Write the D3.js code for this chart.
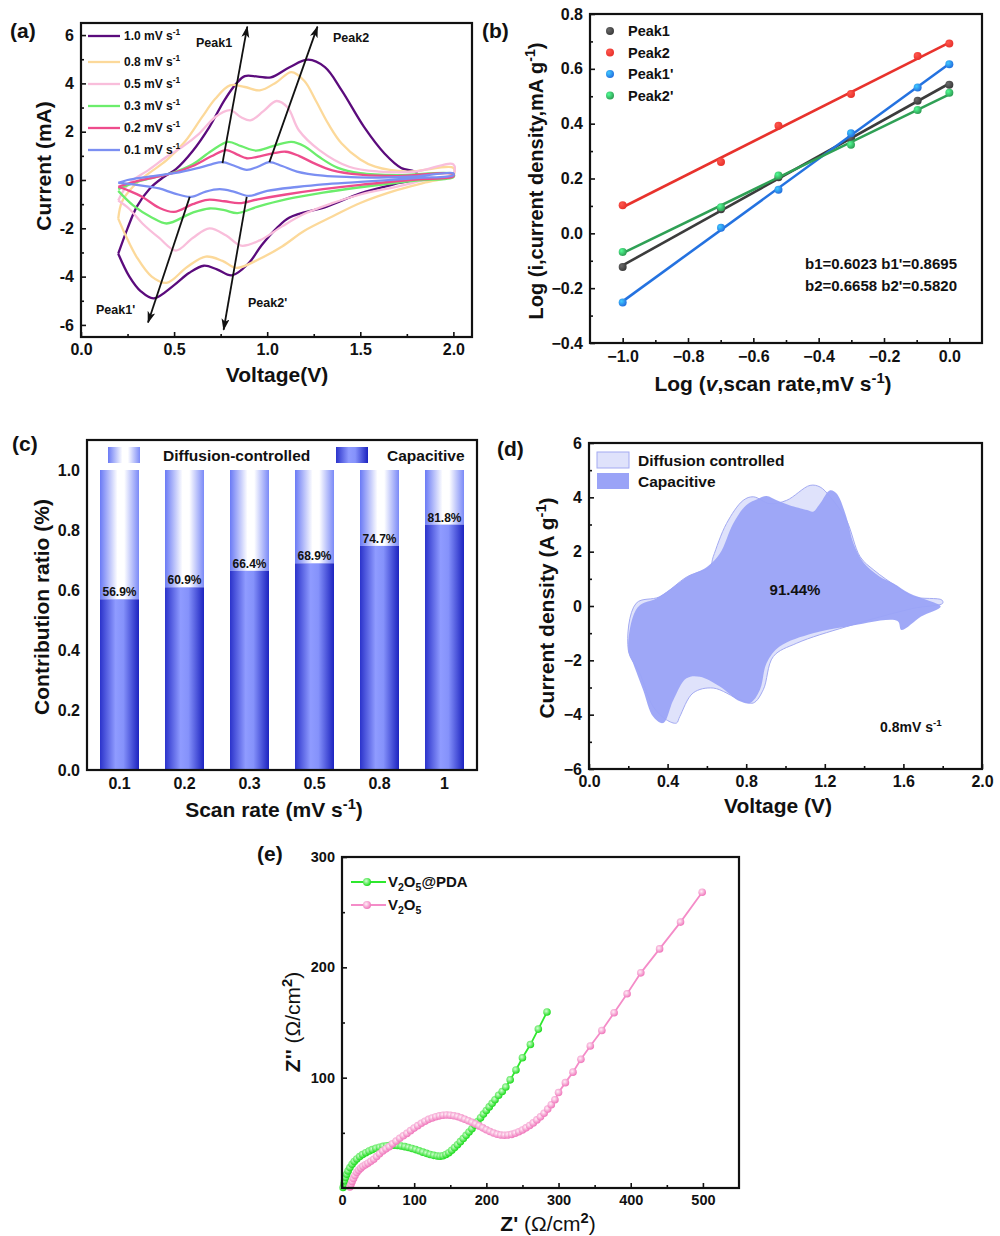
<!DOCTYPE html>
<html><head><meta charset="utf-8">
<script src="https://cdn.jsdelivr.net/npm/d3@7"></script>
<style>
body{margin:0;background:#fff;}
text{font-family:"Liberation Sans",Arial,sans-serif;font-weight:bold;fill:#111;}
</style></head><body>
<svg id="fig" width="1000" height="1236"></svg>
<script>
// ---- (a) CV curves, [V, mA]
var cvRates = ['1.0', '0.8', '0.5', '0.3', '0.2', '0.1'];
var cvColors = ['#5b0b7c', '#fcd99a', '#f9bedb', '#6ced6c', '#ee4c8c', '#7b8ff2'];
var cvUp = [
  [[0.2,-3.05],[0.25,-2.0],[0.3,-1.1],[0.37,-0.35],[0.44,0.1],[0.51,0.45],[0.6,1.2],[0.69,2.2],[0.77,3.3],[0.835,4.0],[0.88,4.3],[0.95,4.28],[1.02,4.25],[1.12,4.67],[1.22,4.98],[1.31,4.67],[1.4,3.71],[1.52,2.2],[1.63,1.1],[1.72,0.5],[1.8,0.32]],
  [[0.2,-1.6],[0.22,-0.9],[0.28,-0.27],[0.36,0.25],[0.46,0.82],[0.56,1.6],[0.65,2.6],[0.72,3.35],[0.8,3.92],[0.88,3.85],[0.96,3.71],[1.05,4.05],[1.13,4.47],[1.2,4.1],[1.26,3.3],[1.33,2.3],[1.4,1.51],[1.5,0.85],[1.58,0.55],[1.75,0.35],[2.0,0.5]],
  [[0.2,-0.85],[0.24,-0.3],[0.28,0.0],[0.36,0.4],[0.46,0.96],[0.55,1.4],[0.635,1.92],[0.72,2.6],[0.8,2.89],[0.86,2.6],[0.91,2.47],[0.98,2.85],[1.05,3.27],[1.11,3.0],[1.17,2.06],[1.28,1.24],[1.44,0.55],[1.6,0.35],[1.8,0.35],[2.0,0.65]],
  [[0.2,-0.38],[0.3,-0.08],[0.4,0.12],[0.5,0.32],[0.6,0.65],[0.7,1.2],[0.79,1.58],[0.86,1.4],[0.94,1.22],[1.03,1.4],[1.13,1.58],[1.2,1.4],[1.28,0.95],[1.38,0.5],[1.5,0.28],[1.7,0.2],[2.0,0.25]],
  [[0.2,-0.28],[0.3,-0.05],[0.4,0.12],[0.5,0.3],[0.6,0.58],[0.7,0.98],[0.78,1.24],[0.84,1.05],[0.89,0.9],[0.96,0.98],[1.04,1.12],[1.1,1.17],[1.17,1.0],[1.25,0.7],[1.35,0.4],[1.5,0.22],[1.7,0.16],[2.0,0.25]],
  [[0.2,-0.12],[0.25,0.0],[0.35,0.12],[0.5,0.28],[0.62,0.48],[0.7,0.65],[0.76,0.74],[0.82,0.6],[0.89,0.42],[0.95,0.55],[1.01,0.74],[1.08,0.58],[1.16,0.35],[1.3,0.18],[1.45,0.12],[1.6,0.1],[1.8,0.15],[2.0,0.28]]
];
var cvDown = [
  [[1.8,0.05],[1.71,-0.12],[1.5,-0.55],[1.32,-1.1],[1.12,-1.55],[1.05,-2.0],[0.97,-2.7],[0.9,-3.45],[0.81,-3.95],[0.73,-3.7],[0.66,-3.55],[0.58,-3.85],[0.5,-4.35],[0.39,-4.9],[0.32,-4.6],[0.26,-4.0],[0.2,-3.05]],
  [[2.0,0.2],[1.85,-0.1],[1.7,-0.41],[1.5,-0.95],[1.35,-1.51],[1.2,-2.1],[1.08,-2.75],[0.95,-3.3],[0.835,-3.64],[0.76,-3.35],[0.67,-3.17],[0.57,-3.6],[0.46,-4.26],[0.38,-4.0],[0.3,-3.2],[0.24,-2.3],[0.2,-1.6]],
  [[2.0,0.25],[1.85,0.0],[1.7,-0.27],[1.5,-0.6],[1.35,-0.96],[1.2,-1.4],[1.08,-1.92],[0.96,-2.5],[0.86,-2.72],[0.78,-2.3],[0.69,-2.0],[0.6,-2.4],[0.51,-2.92],[0.42,-2.4],[0.33,-1.8],[0.26,-1.2],[0.2,-0.85]],
  [[2.0,0.12],[1.8,-0.02],[1.5,-0.3],[1.3,-0.52],[1.1,-0.8],[0.95,-1.1],[0.84,-1.37],[0.77,-1.25],[0.69,-1.18],[0.6,-1.35],[0.46,-1.8],[0.38,-1.55],[0.28,-1.05],[0.2,-0.45]],
  [[2.0,0.15],[1.8,0.02],[1.5,-0.2],[1.3,-0.38],[1.1,-0.6],[0.95,-0.8],[0.85,-0.96],[0.77,-0.88],[0.68,-0.82],[0.6,-1.0],[0.5,-1.32],[0.42,-1.15],[0.33,-0.7],[0.26,-0.45],[0.2,-0.28]],
  [[2.0,0.2],[1.8,0.08],[1.5,-0.08],[1.3,-0.18],[1.16,-0.29],[1.0,-0.45],[0.9,-0.66],[0.82,-0.48],[0.745,-0.38],[0.67,-0.48],[0.59,-0.7],[0.5,-0.55],[0.42,-0.35],[0.3,-0.2],[0.2,-0.12]]
];
var peakArrows = [
  {name: 'Peak1', from: [0.76, 0.70], to: [0.893, 6.35]},
  {name: 'Peak2', from: [1.012, 0.74], to: [1.27, 6.35]},
  {name: "Peak1'", from: [0.584, -0.70], to: [0.36, -5.9]},
  {name: "Peak2'", from: [0.89, -0.70], to: [0.766, -6.2]}
];

// ---- (b) log i vs log v
var logV = [-1.0, -0.699, -0.523, -0.301, -0.097, 0];
var bSeries = ['Peak1', 'Peak2', "Peak1'", "Peak2'"];
var bColors = ['#3c3c3c', '#e8322c', '#2472e0', '#2fa055'];
var peak1 = [-0.123, 0.088, 0.205, 0.345, 0.484, 0.542];
var peak2 = [0.102, 0.26, 0.392, 0.508, 0.647, 0.692];
var peak1p = [-0.252, 0.020, 0.159, 0.365, 0.532, 0.617];
var peak2p = [-0.068, 0.095, 0.211, 0.323, 0.450, 0.513];

// ---- (c) contribution ratio
var scanRates = ['0.1', '0.2', '0.3', '0.5', '0.8', '1'];
var capRatio = [0.569, 0.609, 0.664, 0.689, 0.747, 0.818];

// ---- (d) separated CV at 0.8 mV/s, [V, A/g]
var totalCV = [[0.2,-1.62],[0.24,0.1],[0.36,0.34],[0.5,1.08],[0.615,1.44],[0.632,1.81],[0.7,3.04],[0.785,3.89],[0.836,4.02],[0.92,3.77],[1.006,3.89],[1.125,4.44],[1.176,4.38],[1.227,4.02],[1.31,3.16],[1.38,1.81],[1.45,1.32],[1.567,0.71],[1.65,0.34],[1.796,0.22],[1.8,0.1],[1.65,-0.09],[1.31,-0.76],[1.057,-1.37],[0.938,-1.86],[0.887,-3.08],[0.836,-3.57],[0.768,-3.45],[0.632,-3.02],[0.53,-3.2],[0.462,-4.07],[0.445,-4.31],[0.394,-4.19],[0.326,-3.7],[0.258,-2.47]];
var capCV = [[0.2,-1.62],[0.224,-0.39],[0.26,0.04],[0.343,0.28],[0.43,0.71],[0.5,1.08],[0.6,1.44],[0.666,1.93],[0.734,3.04],[0.8,3.71],[0.862,3.95],[0.904,4.05],[0.955,3.89],[1.02,3.71],[1.11,3.53],[1.14,3.47],[1.176,3.77],[1.227,4.26],[1.26,4.14],[1.31,3.28],[1.346,2.3],[1.4,1.57],[1.48,1.08],[1.55,0.83],[1.63,0.47],[1.72,0.22],[1.79,-0.02],[1.69,-0.39],[1.59,-0.88],[1.57,-0.55],[1.31,-0.76],[1.14,-1.0],[0.97,-1.49],[0.904,-2.1],[0.87,-3.08],[0.82,-3.57],[0.768,-3.51],[0.666,-2.96],[0.564,-2.6],[0.496,-2.66],[0.43,-3.45],[0.377,-4.31],[0.326,-4.07],[0.275,-3.08],[0.224,-2.1]];

// ---- (e) Nyquist, [Z', Z'']
var pdaZ = [[1.5,0.5],[2.5,3.5],[3.5,6.5],[5,9.5],[6.5,12.5],[8.5,15.5],[11,18.5],[14,21.5],[17,24],[20.5,26.3],[24.5,28.5],[28.5,30.3],[33,32],[37.5,33.5],[42,34.8],[47,36],[52,37],[57,37.8],[62,38.3],[67,38.6],[72,38.7],[77,38.5],[82,38.1],[87,37.5],[92,36.7],[97,35.8],[102,34.8],[107,33.7],[112,32.5],[117,31.4],[122,30.4],[127,29.6],[132,29],[136,28.8],[140,29.2],[144,30.4],[148,32],[152,34.2],[156,36.6],[160,39.2],[164,42],[168,44.8],[172,47.7],[176,50.7],[180,53.7],[184,57],[188,60.3],[192,63.7],[196,67],[200,70.3],[204,73.5],[208,76.7],[212,80],[217,84],[222,87.5],[227,91.5],[233,98],[241,107],[250,118],[261,130],[272,144],[284,159.5]];
var v2o5Z = [[11,1],[12.5,3.5],[14,6],[16,8.7],[18,11.3],[20.5,14],[23,16],[26,18],[29,19.6],[32.5,21],[36,22.5],[40,24.2],[44,26],[48,28.5],[52,31],[56.5,33.5],[61,35.5],[65.5,37.5],[70,40],[75,42.5],[80,45],[85,47.3],[90,49.5],[95,52],[100,54.3],[105,56.5],[110,58.7],[115,60.5],[120,62.2],[125,63.5],[130,64.6],[135,65.4],[140,66],[145,66.2],[150,66],[155,65.5],[160,64.7],[165,63.6],[170,62.3],[175,61],[180,59.5],[185,58],[190,56.3],[195,54.5],[200,52.8],[205,51.2],[210,49.8],[215,48.7],[220,48],[225,47.8],[230,48],[235,48.6],[240,49.6],[245,51],[250,52.6],[255,54.5],[260,56.6],[265,59],[270,61.7],[275,64.5],[280,67.8],[285,71.5],[290,75.5],[295,80],[300,86.5],[309.5,95.5],[320,105],[331,116.6],[344,128.7],[360,142.8],[377,158.8],[395,176],[414,195],[440,216.7],[469,241],[499,268]];

var svg = d3.select('#fig');
var defs = svg.append('defs');

// text with superscripts / subscripts / italics
function rich(t, parts, fs) {
  var shift = 0;
  parts.forEach(function (p) {
    var s = t.append('tspan').text(p[0]);
    var want = p[1] === 'sup' ? -0.4 * fs : (p[1] === 'sub' ? 0.28 * fs : 0);
    s.attr('dy', want - shift);
    shift = want;
    if (p[1] === 'sup' || p[1] === 'sub') s.attr('font-size', fs * 0.7);
    if (p[1] === 'i') s.attr('font-style', 'italic');
    if (p[1] === 'light') s.attr('font-weight', 'normal');
  });
  return t;
}

function label(x, y, parts, fs, opts) {
  opts = opts || {};
  var t = svg.append('text').attr('font-size', fs)
    .attr('text-anchor', opts.anchor || 'start');
  if (opts.rotate) t.attr('transform', 'translate(' + x + ',' + y + ') rotate(-90)');
  else t.attr('x', x).attr('y', y);
  return rich(t, typeof parts === 'string' ? [[parts, 'n']] : parts, fs);
}

// axes drawn inward, plus a closed frame
function axes(o) {
  var g = svg.append('g');
  var x = o.x, y = o.y, yb = y.range()[0], yt = y.range()[1], xl = x.range()[0], xr = x.range()[1];
  var fs = o.fs || 16;
  var ax = d3.axisBottom(x).tickSize(o.tick === undefined ? -5 : o.tick).tickPadding(o.xpad || 6);
  if (o.xt) ax.tickValues(o.xt);
  if (o.xf) ax.tickFormat(o.xf);
  g.append('g').attr('transform', 'translate(0,' + yb + ')').call(ax);
  if (o.xm) g.append('g').attr('transform', 'translate(0,' + yb + ')')
    .call(d3.axisBottom(x).tickValues(o.xm).tickFormat('').tickSize(-3));
  if (o.yt) {
    g.append('g').attr('transform', 'translate(' + xl + ',0)')
      .call(d3.axisLeft(y).tickValues(o.yt).tickFormat(o.yf).tickSize(o.tick === undefined ? -5 : o.tick).tickPadding(o.ypad || 7));
    if (o.ym) g.append('g').attr('transform', 'translate(' + xl + ',0)')
      .call(d3.axisLeft(y).tickValues(o.ym).tickFormat('').tickSize(-3));
  }
  g.selectAll('.domain').remove();
  g.selectAll('.tick line').attr('stroke', '#111').attr('stroke-width', 1.6);
  g.selectAll('g').attr('font-size', fs).attr('font-family', null);
  g.selectAll('.tick text').attr('fill', '#111');
  g.append('rect').attr('x', xl).attr('y', yt).attr('width', xr - xl).attr('height', yb - yt)
    .attr('fill', 'none').attr('stroke', '#111').attr('stroke-width', 2.2);
}

var hyphen = function (d) { return String(d).replace('−', '-'); };

// ================= (a) =================
var xa = d3.scaleLinear().domain([0, 2.1]).range([81, 472]);
var ya = d3.scaleLinear().domain([-6.5, 6.5]).range([337, 23]);
var cvLine = d3.line().x(function (d) { return xa(d[0]); }).y(function (d) { return ya(d[1]); })
  .curve(d3.curveCatmullRom.alpha(0.5));
cvRates.forEach(function (r, i) {
  svg.append('path').attr('d', cvLine(cvUp[i].concat(cvDown[i])))
    .attr('fill', 'none').attr('stroke', cvColors[i]).attr('stroke-width', 2.3);
});
defs.append('marker').attr('id', 'arr').attr('markerUnits', 'userSpaceOnUse')
  .attr('markerWidth', 12).attr('markerHeight', 10).attr('refX', 11).attr('refY', 4)
  .attr('orient', 'auto').append('path').attr('d', 'M0,0 L12,4 L0,8 L3,4 z').attr('fill', '#111');
peakArrows.forEach(function (a) {
  svg.append('line').attr('x1', xa(a.from[0])).attr('y1', ya(a.from[1]))
    .attr('x2', xa(a.to[0])).attr('y2', ya(a.to[1]))
    .attr('stroke', '#111').attr('stroke-width', 1.8).attr('marker-end', 'url(#arr)');
});
label(196, 47, 'Peak1', 12.5);
label(333, 42, 'Peak2', 12.5);
label(96, 314, "Peak1'", 12.5);
label(248, 307, "Peak2'", 12.5);
var aLegY = [36, 62, 84, 106, 128, 150];
cvRates.forEach(function (r, i) {
  svg.append('line').attr('x1', 88).attr('x2', 120).attr('y1', aLegY[i]).attr('y2', aLegY[i])
    .attr('stroke', cvColors[i]).attr('stroke-width', 2.3);
  label(124, aLegY[i] + 4, [[r + ' mV s', 'n'], ['-1', 'sup']], 12);
});
axes({x: xa, y: ya, xt: [0, 0.5, 1, 1.5, 2], xm: [0.25, 0.75, 1.25, 1.75],
  xf: d3.format('.1f'), yt: [-6, -4, -2, 0, 2, 4, 6], ym: [-5, -3, -1, 1, 3, 5], yf: hyphen, xpad: 7});
label(277, 382, 'Voltage(V)', 21, {anchor: 'middle'});
label(51, 166, 'Current (mA)', 21, {anchor: 'middle', rotate: true});
label(10, 38, '(a)', 21);

// ================= (b) =================
var xb = d3.scaleLinear().domain([-1.1, 0.1]).range([590, 982]);
var yb = d3.scaleLinear().domain([-0.4, 0.8]).range([343, 14]);
var bData = [peak1, peak2, peak1p, peak2p];
bSeries.forEach(function (s, i) {
  var grad = defs.append('radialGradient').attr('id', 'sph' + i).attr('cx', '35%').attr('cy', '35%').attr('r', '65%');
  grad.append('stop').attr('offset', '0%').attr('stop-color', d3.color(bColors[i]).brighter(1.6));
  grad.append('stop').attr('offset', '100%').attr('stop-color', bColors[i]);
  var ys = bData[i];
  var mx = d3.mean(logV), my = d3.mean(ys);
  var slope = d3.sum(logV, function (v, k) { return (v - mx) * (ys[k] - my); }) /
    d3.sum(logV, function (v) { return (v - mx) * (v - mx); });
  var icpt = my - slope * mx;
  svg.append('line').attr('x1', xb(-1)).attr('y1', yb(icpt - slope)).attr('x2', xb(0)).attr('y2', yb(icpt))
    .attr('stroke', bColors[i]).attr('stroke-width', 2.6);
  svg.append('g').selectAll('circle').data(logV).enter().append('circle')
    .attr('cx', function (v) { return xb(v); }).attr('cy', function (v, k) { return yb(ys[k]); })
    .attr('r', 4).attr('fill', 'url(#sph' + i + ')');
  var ly = 31 + i * 21.5;
  svg.append('circle').attr('cx', 610).attr('cy', ly).attr('r', 4).attr('fill', 'url(#sph' + i + ')');
  label(628, ly + 5, s, 14.5);
});
axes({x: xb, y: yb, xt: [-1, -0.8, -0.6, -0.4, -0.2, 0], xm: [-0.9, -0.7, -0.5, -0.3, -0.1],
  xf: d3.format('.1f'), yt: [-0.4, -0.2, 0, 0.2, 0.4, 0.6, 0.8], ym: [-0.3, -0.1, 0.1, 0.3, 0.5, 0.7],
  yf: d3.format('.1f'), xpad: 8});
label(957, 269, "b1=0.6023 b1'=0.8695", 15, {anchor: 'end'});
label(957, 291, "b2=0.6658 b2'=0.5820", 15, {anchor: 'end'});
label(773, 391, [['Log (', 'n'], ['v', 'i'], [',scan rate,mV s', 'n'], ['-1', 'sup'], [')', 'n']], 21, {anchor: 'middle'});
label(543, 181, [['Log (i,current density,mA g', 'n'], ['-1', 'sup'], [')', 'n']], 20, {anchor: 'middle', rotate: true});
label(482, 38, '(b)', 21);

// ================= (c) =================
var xc = d3.scaleBand().domain(scanRates).range([87, 477]).paddingInner(0.4).paddingOuter(0.2);
var yc = d3.scaleLinear().domain([0, 1.1]).range([770, 440]);
var gCap = defs.append('linearGradient').attr('id', 'gCap');
[['0%', '#2b33cb'], ['40%', '#8f9bff'], ['60%', '#8592fb'], ['100%', '#1c23c0']].forEach(function (s) {
  gCap.append('stop').attr('offset', s[0]).attr('stop-color', s[1]);
});
var gDif = defs.append('linearGradient').attr('id', 'gDif');
[['0%', '#6a7af5'], ['45%', '#ffffff'], ['62%', '#ffffff'], ['100%', '#7b8af7']].forEach(function (s) {
  gDif.append('stop').attr('offset', s[0]).attr('stop-color', s[1]);
});
var bars = svg.append('g');
bars.selectAll('.dif').data(scanRates).enter().append('rect')
  .attr('x', function (d) { return xc(d); }).attr('width', xc.bandwidth())
  .attr('y', yc(1)).attr('height', function (d, i) { return yc(capRatio[i]) - yc(1); })
  .attr('fill', 'url(#gDif)');
bars.selectAll('.cap').data(scanRates).enter().append('rect')
  .attr('x', function (d) { return xc(d); }).attr('width', xc.bandwidth())
  .attr('y', function (d, i) { return yc(capRatio[i]); })
  .attr('height', function (d, i) { return yc(0) - yc(capRatio[i]); })
  .attr('fill', 'url(#gCap)');
bars.selectAll('text').data(scanRates).enter().append('text')
  .attr('x', function (d) { return xc(d) + xc.bandwidth() / 2; })
  .attr('y', function (d, i) { return yc(capRatio[i]) - 3; })
  .attr('text-anchor', 'middle').attr('font-size', 12)
  .text(function (d, i) { return (capRatio[i] * 100).toFixed(1) + '%'; });
axes({x: xc, y: yc, tick: 0, yt: [0, 0.2, 0.4, 0.6, 0.8, 1.0], yf: d3.format('.1f'), xpad: 8, ypad: 7});
svg.append('rect').attr('x', 108).attr('y', 447).attr('width', 32).attr('height', 16).attr('fill', 'url(#gDif)');
label(163, 461, 'Diffusion-controlled', 15.5);
svg.append('rect').attr('x', 336).attr('y', 447).attr('width', 32).attr('height', 16).attr('fill', 'url(#gCap)');
label(387, 461, 'Capacitive', 15.5);
label(274, 817, [['Scan rate (mV s', 'n'], ['-1', 'sup'], [')', 'n']], 21, {anchor: 'middle'});
label(49, 607, 'Contribution ratio (%)', 21, {anchor: 'middle', rotate: true});
label(12, 451, '(c)', 21);

// ================= (d) =================
var xd = d3.scaleLinear().domain([0, 2]).range([589, 982]);
var yd = d3.scaleLinear().domain([-6, 6]).range([769, 443]);
var loop = d3.line().x(function (d) { return xd(d[0]); }).y(function (d) { return yd(d[1]); })
  .curve(d3.curveCatmullRomClosed.alpha(0.5));
svg.append('path').attr('d', loop(totalCV)).attr('fill', '#dfe2fb').attr('stroke', '#a3aaf2').attr('stroke-width', 1);
svg.append('path').attr('d', loop(capCV)).attr('fill', '#9aa3f7').attr('fill-opacity', 0.95);
label(795, 595, '91.44%', 15, {anchor: 'middle'});
label(880, 732, [['0.8mV s', 'n'], ['-1', 'sup']], 14);
svg.append('rect').attr('x', 597).attr('y', 452).attr('width', 32).attr('height', 16)
  .attr('fill', '#dfe2fb').attr('stroke', '#a3aaf2').attr('stroke-width', 1);
label(638, 466, 'Diffusion controlled', 15.5);
svg.append('rect').attr('x', 597).attr('y', 473).attr('width', 32).attr('height', 16).attr('fill', '#9aa3f7');
label(638, 487, 'Capacitive', 15.5);
axes({x: xd, y: yd, xt: [0, 0.4, 0.8, 1.2, 1.6, 2.0], xm: [0.2, 0.6, 1.0, 1.4, 1.8], xf: d3.format('.1f'),
  yt: [-6, -4, -2, 0, 2, 4, 6], ym: [-5, -3, -1, 1, 3, 5], yf: d3.format('d'), xpad: 7});
label(778, 813, 'Voltage (V)', 21, {anchor: 'middle'});
label(554, 608, [['Current density (A g', 'n'], ['-1', 'sup'], [')', 'n']], 21, {anchor: 'middle', rotate: true});
label(497, 456, '(d)', 21);

// ================= (e) =================
var xe = d3.scaleLinear().domain([0, 550]).range([342, 739]);
var ye = d3.scaleLinear().domain([0, 300]).range([1188, 857]);
var eSeries = [
  {data: pdaZ, line: '#2ee82e', c0: '#d4ffd4', c1: '#1fdc1f'},
  {data: v2o5Z, line: '#f48cc8', c0: '#fff0f8', c1: '#f07abd'}
];
var zLine = d3.line().x(function (d) { return xe(d[0]); }).y(function (d) { return ye(d[1]); });
eSeries.forEach(function (s, i) {
  var grad = defs.append('radialGradient').attr('id', 'eb' + i).attr('cx', '40%').attr('cy', '38%').attr('r', '60%');
  grad.append('stop').attr('offset', '0%').attr('stop-color', s.c0);
  grad.append('stop').attr('offset', '100%').attr('stop-color', s.c1);
  svg.append('path').attr('d', zLine(s.data)).attr('fill', 'none').attr('stroke', s.line).attr('stroke-width', 1.8);
});
eSeries.forEach(function (s, i) {
  svg.append('g').selectAll('circle').data(s.data).enter().append('circle')
    .attr('cx', function (d) { return xe(d[0]); }).attr('cy', function (d) { return ye(d[1]); })
    .attr('r', 3.8).attr('fill', 'url(#eb' + i + ')');
});
var eLeg = [[['V', 'n'], ['2', 'sub'], ['O', 'n'], ['5', 'sub'], ['@PDA', 'n']], [['V', 'n'], ['2', 'sub'], ['O', 'n'], ['5', 'sub']]];
eLeg.forEach(function (parts, i) {
  var ly = 882 + i * 23;
  svg.append('line').attr('x1', 351).attr('x2', 386).attr('y1', ly).attr('y2', ly)
    .attr('stroke', eSeries[i].line).attr('stroke-width', 1.8);
  svg.append('circle').attr('cx', 367).attr('cy', ly).attr('r', 4).attr('fill', 'url(#eb' + i + ')');
  label(388, ly + 5, parts, 15);
});
axes({x: xe, y: ye, xt: [0, 100, 200, 300, 400, 500], xm: [50, 150, 250, 350, 450],
  xf: d3.format('d'), yt: [100, 200, 300], ym: [50, 150, 250], yf: d3.format('d'), fs: 14.5, xpad: 7});
label(548, 1231, [["Z' ", 'n'], ['(Ω/cm', 'light'], ['2', 'sup'], [')', 'light']], 21, {anchor: 'middle'});
label(300, 1022, [["Z'' ", 'n'], ['(Ω/cm', 'light'], ['2', 'sup'], [')', 'light']], 21, {anchor: 'middle', rotate: true});
label(257, 861, '(e)', 21);
</script></body></html>
